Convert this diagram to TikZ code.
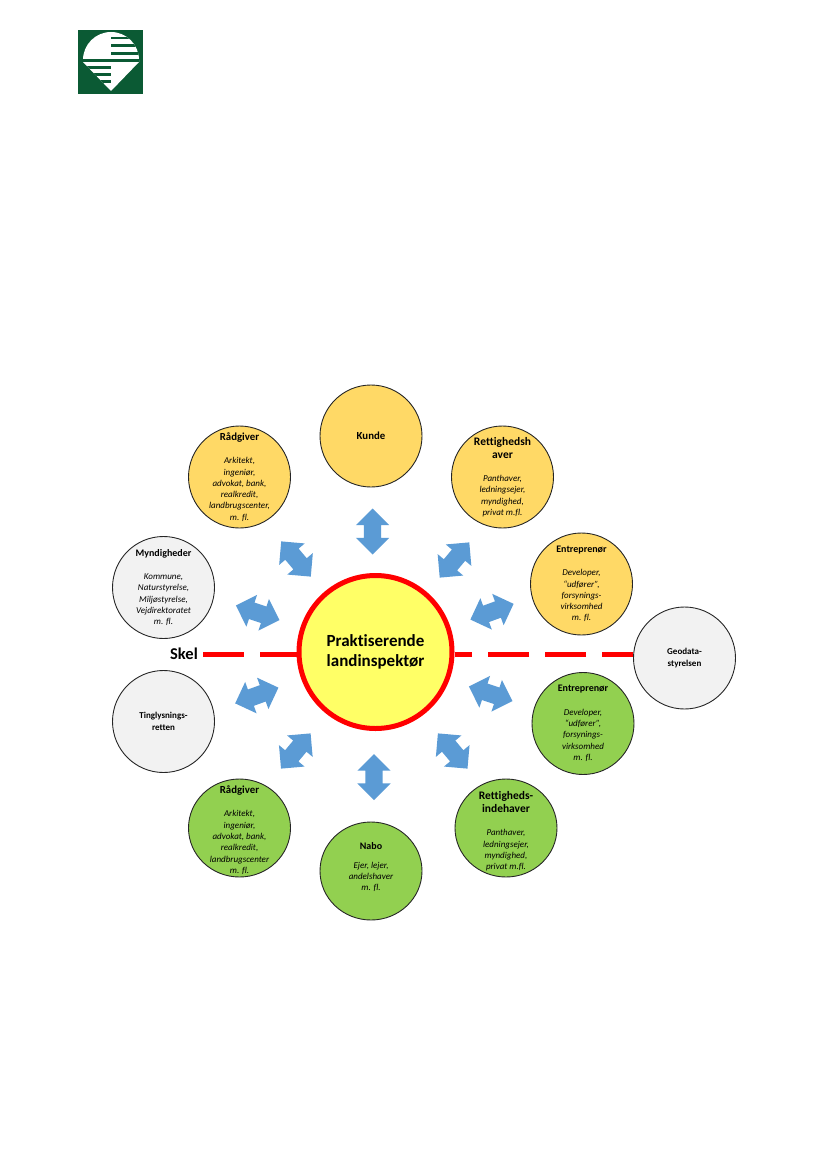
\documentclass[tikz,border=0pt]{standalone}
\usepackage{fontspec}
\setmainfont[Ligatures=NoCommon]{Carlito}
\usetikzlibrary{shapes.geometric,shapes.arrows,backgrounds}
\definecolor{logogreen}{HTML}{0B5A34}
\definecolor{orangefill}{HTML}{FFD966}
\definecolor{greenfill}{HTML}{92D050}
\definecolor{greyfill}{HTML}{F2F2F2}
\definecolor{yellowfill}{HTML}{FFFF66}
\definecolor{arrowblue}{HTML}{5B9BD5}
\newcommand{\ttl}[1]{{\fontsize{10}{12}\selectfont\bfseries #1}}
\newcommand{\ttlm}[1]{{\fontsize{10.8}{12}\selectfont\bfseries #1}}
\newcommand{\ttlb}[1]{{\fontsize{11.5}{14}\selectfont\bfseries #1}}
\tikzset{
 party/.style={ellipse,draw=black!85,line width=0.9pt,minimum width=102pt,minimum height=102pt,inner sep=-15pt,align=center,text=black,font=\fontsize{9}{11.3}\selectfont},
 orangep/.style={party,fill=orangefill},
 greenp/.style={party,fill=greenfill},
 greyp/.style={party,fill=greyfill},
 boss/.style={circle,draw=red,line width=5pt,fill=yellowfill,minimum size=153pt,inner sep=-15pt,align=center,font=\fontsize{17}{20}\selectfont\bfseries},
 dbl/.style={double arrow,fill=arrowblue,draw=none,minimum height=46pt,inner sep=0pt,text width=0pt,text height=8.5pt,text depth=8.5pt,double arrow head extend=8pt,double arrow head indent=0pt},
 skelline/.style={red,line width=4.5pt,dash pattern=on 41pt off 16pt},
}
\begin{document}
\begin{tikzpicture}[x=1pt,y=-1pt]
\useasboundingbox (0,0) rectangle (826,1169);
% logo
\fill[logogreen] (78,30) rectangle (143,94);
\begin{scope}
\clip (83,60) arc[start angle=180,end angle=360,radius=28] -- (139,62) -- (111,91) -- (83,62) -- cycle;
\fill[white] (78,30) rectangle (143,94);
\fill[logogreen] (111,37) rectangle (143,39.5);
\fill[logogreen] (111,44.5) rectangle (143,47);
\fill[logogreen] (111,52) rectangle (143,55);
\fill[logogreen] (78,59) rectangle (143,62);
\fill[logogreen] (78,66) rectangle (111,69);
\fill[logogreen] (78,73.5) rectangle (111,76);
\fill[logogreen] (78,80.5) rectangle (111,83.5);
\end{scope}
% circles
\node[boss] (ctr) at (375.5,652) {Praktiserende\\landinspektør};
\node[orangep] (kunde) at (371,436) {\ttlm{Kunde}};
\node[orangep] (raad1) at (239.5,477) {\ttlm{Rådgiver}\\[12pt]\itshape Arkitekt,\\\itshape ingeniør,\\\itshape advokat, bank,\\\itshape realkredit,\\\itshape landbrugscenter,\\\itshape m. fl.};
\node[orangep] (ret1) at (502.5,477) {\ttlb{Rettighedsh}\\[2pt]\ttlb{aver}\\[12pt]\itshape Panthaver,\\\itshape ledningsejer,\\\itshape myndighed,\\\itshape privat m.fl.};
\node[orangep] (ent1) at (581.5,584) {\ttl{Entreprenør}\\[12pt]\itshape Developer,\\\itshape “udfører”,\\\itshape forsynings-\\\itshape virksomhed\\\itshape m. fl.};
\node[greyp] (myn) at (163.5,587.5) {\ttl{Myndigheder}\\[12pt]\itshape Kommune,\\\itshape Naturstyrelse,\\\itshape Miljøstyrelse,\\\itshape Vejdirektoratet\\\itshape m. fl.};
\node[greyp] (ting) at (163.5,721.5) {\bfseries Tinglysnings-\\\bfseries retten};
\node[greyp] (geo) at (684.5,658) {\bfseries Geodata-\\\bfseries styrelsen};
\node[greenp] (ent2) at (583,723.5) {\ttl{Entreprenør}\\[12pt]\itshape Developer,\\\itshape “udfører”,\\\itshape forsynings-\\\itshape virksomhed\\\itshape m. fl.};
\node[greenp,minimum height=98pt] (ret2) at (506,828) {\mbox{}\\[3pt]\ttlb{Rettigheds-}\\[2pt]\ttlb{indehaver}\\[12pt]\itshape Panthaver,\\\itshape ledningsejer,\\\itshape myndighed,\\\itshape privat m.fl.};
\node[greenp,minimum height=98pt] (nabo) at (371,871) {\ttl{Nabo}\\[7pt]\itshape Ejer, lejer,\\\itshape andelshaver\\\itshape m. fl.\\[-3pt]\mbox{}};
\node[greenp,minimum height=98pt] (raad2) at (239.5,828) {\mbox{}\\[0.7pt]\ttlm{Rådgiver}\\[12pt]\itshape Arkitekt,\\\itshape ingeniør,\\\itshape advokat, bank,\\\itshape realkredit,\\\itshape landbrugscenter\\\itshape m. fl.};
% arrows
\node[dbl,rotate=90] (a1) at (372.5,531.5) {};
\node[dbl,rotate=50] (a2) at (454.5,560) {};
\node[dbl,rotate=20] (a3) at (492,611.7) {};
\node[dbl,rotate=-18.5] (a4) at (490.7,693.8) {};
\node[dbl,rotate=-50] (a5) at (452.7,751) {};
\node[dbl,rotate=90] (a6) at (374,777) {};
\node[dbl,rotate=50] (a7) at (295.8,751) {};
\node[dbl,rotate=20] (a8) at (256.8,695.5) {};
\node[dbl,rotate=-18.5] (a9) at (257.7,612.8) {};
\node[dbl,rotate=-50] (a10) at (296,559) {};
% skel
\node[font=\fontsize{16.5}{18}\selectfont\bfseries,inner sep=0pt] (skel) at (184,654) {Skel};
\coordinate (skelend) at (203,654.5);
\begin{pgfonlayer}{background}
\draw[skelline] (skelend) -- (skelend -| ctr.west);
\draw[skelline,dash phase=10pt] (skelend -| geo.west) -- (skelend -| ctr.east);
\end{pgfonlayer}
\end{tikzpicture}
\end{document}
